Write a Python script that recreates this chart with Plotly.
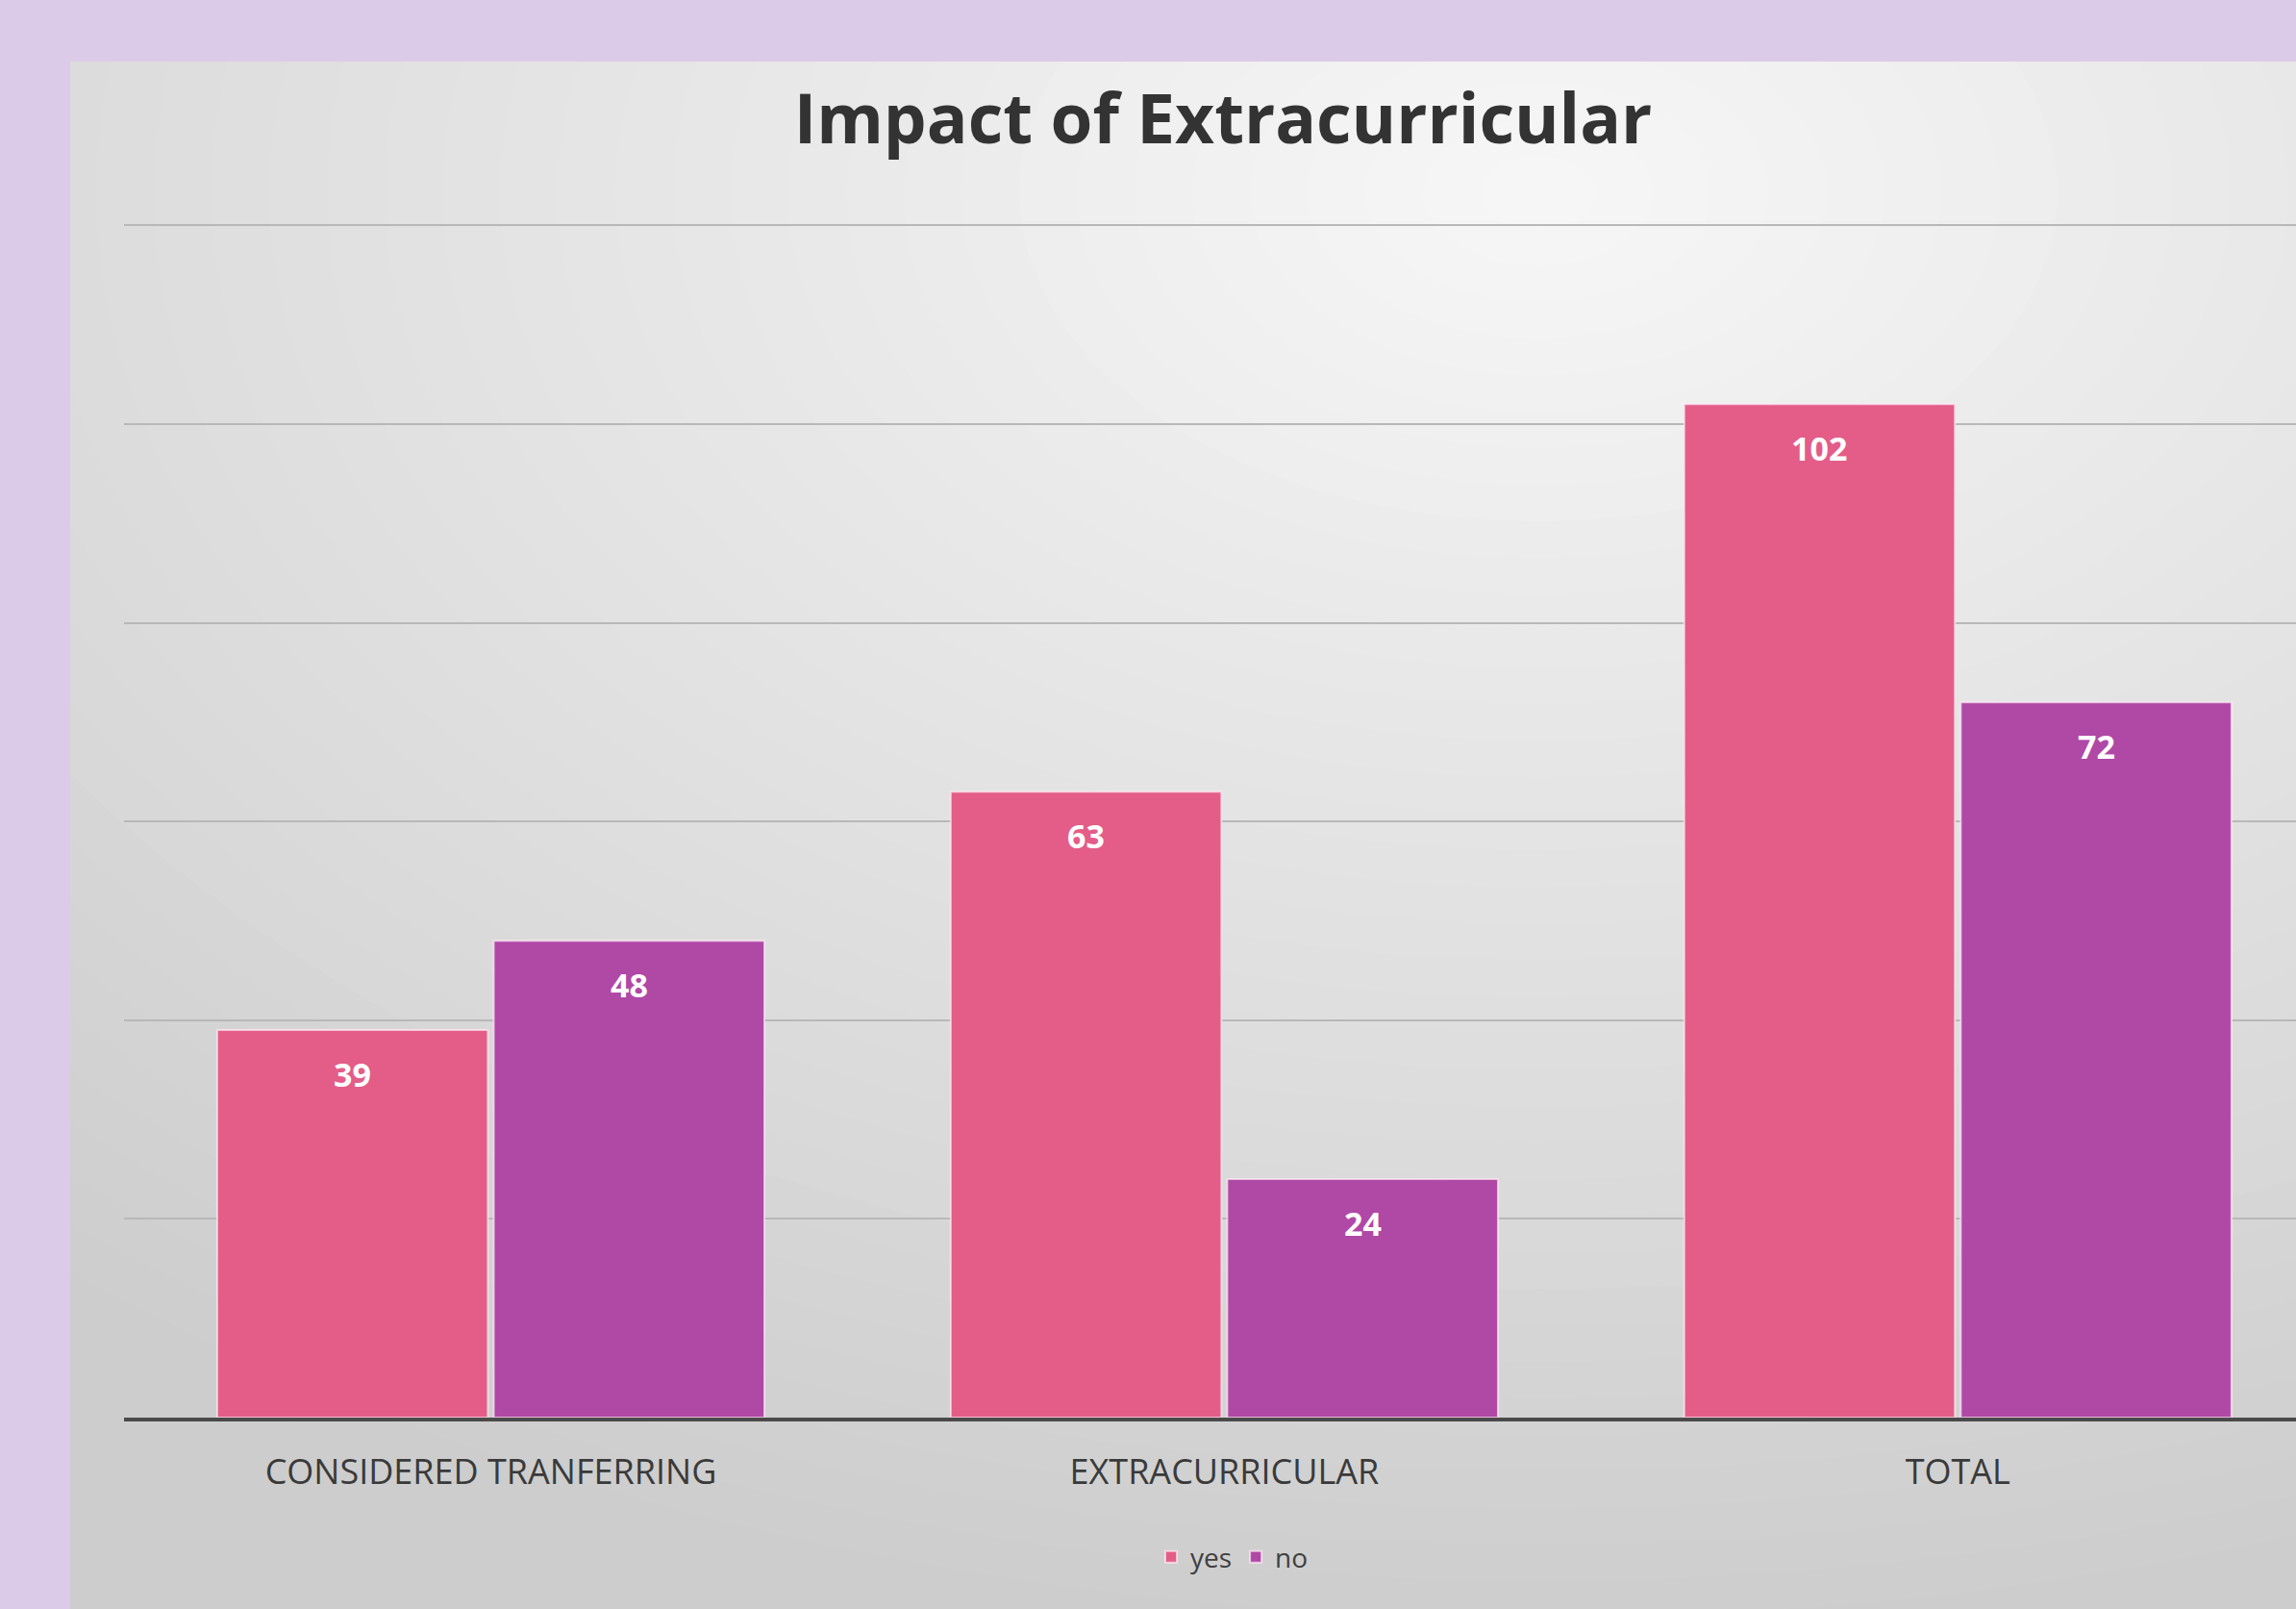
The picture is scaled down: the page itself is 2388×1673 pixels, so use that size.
import plotly.graph_objects as go

categories = ["CONSIDERED TRANFERRING", "EXTRACURRICULAR", "TOTAL"]
yes_values = [39, 63, 102]
no_values = [48, 24, 72]
series_names = ["yes", "no"]
y_ticks = [0, 20, 40, 60, 80, 100, 120]

W, H = 2388, 1673
ML, MR, MT, MB = 129, 0, 224, 199
PW, PH = W - ML - MR, H - MT - MB
PINK = "#e35d88"
PURPLE = "#b048a6"
LAVENDER = "#dccbe8"

# convert figure pixels to plot-area ("paper") coordinates
def px(x):
    return (x - ML) / PW

def py(y):
    return (H - MB - y) / PH

BAR_W = 0.369
OFFS = [-0.373, 0.004]

fig = go.Figure()
annotations = []
for k, (name, vals, col) in enumerate([(series_names[0], yes_values, PINK),
                                        (series_names[1], no_values, PURPLE)]):
    fig.add_trace(go.Bar(
        x=categories, y=vals, name=name, width=BAR_W, offset=OFFS[k],
        marker=dict(color=col, line=dict(color="rgba(255,235,245,0.7)", width=2)),
    ))
    for i, v in enumerate(vals):
        annotations.append(dict(x=i + OFFS[k] + BAR_W / 2, y=v, xref="x", yref="y",
                                text="<b>%d</b>" % v, showarrow=False, yshift=-46,
                                yanchor="middle",
                                font=dict(family="Open Sans", size=34, color="white")))

# background: panel with radial-ish gradient
shapes = [dict(type="rect", xref="paper", yref="paper", x0=px(73), x1=px(W + 50), y0=py(H + 50), y1=py(64),
               fillcolor="#cdcdcd", line=dict(width=0), layer="below")]
n = 40
cx, cy = 1600, 200
c_out, c_in = 0xcd, 0xf7
for i in range(n):
    t = 1 - i / n
    rx, ry = 2400 * t, 1520 * t
    c = int(round(c_in + (c_out - c_in) * t))
    col = "#%02x%02x%02x" % (c, c, c)
    shapes.append(dict(type="circle", xref="paper", yref="paper",
                       x0=px(cx - rx), x1=px(cx + rx), y0=py(cy + ry), y1=py(cy - ry),
                       fillcolor=col, line=dict(width=0), layer="below"))
# lavender border on top of gradient
shapes.append(dict(type="rect", xref="paper", yref="paper", x0=px(-3000), x1=px(73), y0=py(H + 3000), y1=py(-3000),
                   fillcolor=LAVENDER, line=dict(width=0), layer="below"))
shapes.append(dict(type="rect", xref="paper", yref="paper", x0=px(-3000), x1=px(W + 3000), y0=py(64), y1=py(-3000),
                   fillcolor=LAVENDER, line=dict(width=0), layer="below"))

fig.update_layout(
    width=W, height=H,
    paper_bgcolor=LAVENDER, plot_bgcolor="rgba(0,0,0,0)",
    margin=dict(l=ML, r=MR, t=MT, b=MB),
    shapes=shapes,
    annotations=annotations,
    barmode="group",
    title=dict(text="<b>Impact of Extracurricular</b>", x=1272 / W, y=1 - 124 / H,
               xanchor="center", yanchor="middle",
               font=dict(family="Open Sans", size=71, color="#333333")),
    showlegend=True,
    legend=dict(orientation="h", x=px(1282), y=py(1619), xanchor="center", yanchor="middle",
                font=dict(family="Open Sans", size=28, color="#404040"),
                bgcolor="rgba(0,0,0,0)"),
    font=dict(family="Open Sans"),
)
fig.update_xaxes(range=[-0.5, 2.461], showgrid=False, showline=True, linecolor="#4a4a4a",
                 linewidth=4, ticks="", ticklabelstandoff=22,
                 tickfont=dict(family="Open Sans", size=36, color="#3a3a3a"))
fig.update_yaxes(range=[0, 121], tickvals=y_ticks, showticklabels=False, showgrid=True,
                 gridcolor="#b8b8b8", gridwidth=2, zeroline=False, showline=False)

fig.write_html("out.html", config={"displayModeBar": False},
               post_script="document.body.style.margin='0';")
